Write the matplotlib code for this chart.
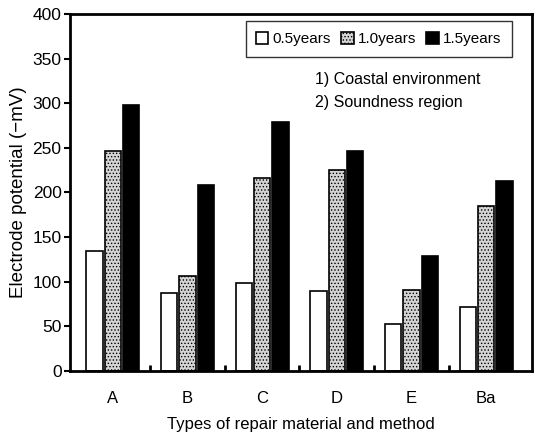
import numpy as np
import matplotlib.pyplot as plt

plt.rcParams['font.family'] = ['Liberation Sans', 'DejaVu Sans']
plt.rcParams['hatch.color'] = '#777777'
plt.rcParams['hatch.linewidth'] = 0.6

# data
categories = ['A', 'B', 'C', 'D', 'E', 'Ba']
y05 = [135, 87, 99, 90, 53, 72]
y10 = [247, 106, 216, 225, 91, 185]
y15 = [298, 208, 279, 246, 129, 213]
series_labels = ['0.5years', '1.0years', '1.5years']

fig = plt.figure(figsize=(5.34, 4.34), dpi=100)
ax = fig.add_axes([0.131, 0.145, 0.866, 0.823])

x = np.arange(len(categories))
w = 0.245
ax.bar(x - w, y05, w * 0.9, color='white', edgecolor='black', linewidth=1.2, label=series_labels[0])
ax.bar(x, y10, w * 0.9, color='#d4d4d4', edgecolor='black', linewidth=1.2,
       hatch='.....', label=series_labels[1])
ax.bar(x + w, y15, w * 0.9, color='black', edgecolor='black', linewidth=1.2, label=series_labels[2])

ax.set_xlim(-0.575, 5.62)
ax.set_ylim(0, 400)
ax.set_yticks(np.arange(0, 401, 50))
ax.set_xticks(x)
ax.set_xticklabels(categories)
ax.set_xticks(x[:-1] + 0.5, minor=True)
ax.tick_params(axis='x', which='major', length=0, pad=14, labelsize=12)
ax.tick_params(axis='x', which='minor', direction='in', length=4, width=2)
ax.tick_params(axis='y', direction='out', length=4, width=1.5, labelsize=12.5, pad=2)

for s in ['left', 'bottom', 'top', 'right']:
    ax.spines[s].set_linewidth(2)

ax.set_xlabel('Types of repair material and method', fontsize=12, labelpad=8)
ax.set_ylabel('Electrode potential (\u2212mV)', fontsize=13.5, labelpad=4)

leg = ax.legend(loc='upper right', bbox_to_anchor=(0.955, 0.98), ncol=3, fontsize=11,
                frameon=True, fancybox=False, edgecolor='black', handlelength=0.8,
                handleheight=0.9, handletextpad=0.25, columnspacing=0.7, borderpad=0.7,
                borderaxespad=0)
leg.get_frame().set_linewidth(1.0)

ax.text(0.53, 0.815, '1) Coastal environment', transform=ax.transAxes, fontsize=11.5, va='center')
ax.text(0.53, 0.753, '2) Soundness region', transform=ax.transAxes, fontsize=11.5, va='center')

fig.savefig('out.png', dpi=100)
